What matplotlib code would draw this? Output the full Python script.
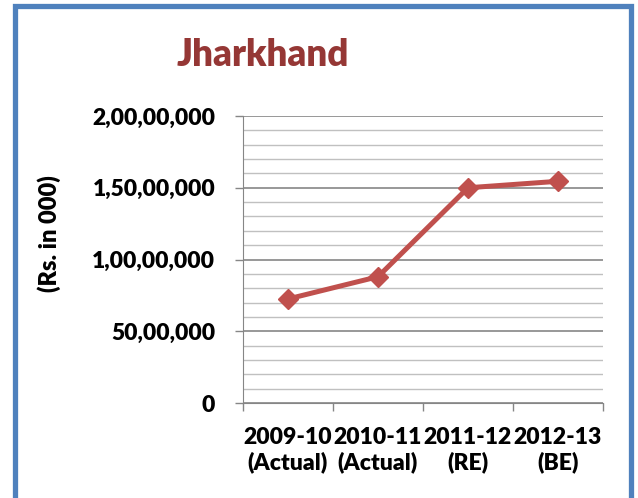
import matplotlib
matplotlib.use("Agg")
import matplotlib.pyplot as plt
from matplotlib.ticker import MultipleLocator, FuncFormatter
from matplotlib.patches import Rectangle

categories = ["2009-10\n(Actual)", "2010-11\n(Actual)", "2011-12\n(RE)", "2012-13\n(BE)"]
values = [7250000, 8800000, 15000000, 15450000]
title = "Jharkhand"
ylabel = "(Rs. in 000)"

plt.rcParams['font.family'] = ['Lato', 'DejaVu Sans']
W = 'heavy'

fig = plt.figure(figsize=(6.38, 4.98), dpi=100)
fig.patches.append(Rectangle((14.5/638, -0.1), 616.5/638, 1.1 - 6/498, transform=fig.transFigure,
                             fill=False, edgecolor='#4F81BD', linewidth=3.8))
ax = fig.add_axes([243/638, 1-403/498, 360/638, 287/498])

x = list(range(len(categories)))
ax.plot(x, values, color='#C0504D', linewidth=3.6, marker='D', markersize=10,
        markeredgecolor='#C0504D', markerfacecolor='#C0504D', zorder=5)

ax.set_xlim(-0.5, len(categories) - 0.5)
ax.set_ylim(0, 20000000)
ax.yaxis.set_major_locator(MultipleLocator(5000000))
ax.yaxis.set_minor_locator(MultipleLocator(1000000))

def indian(v, pos):
    v = int(round(v))
    if v == 0:
        return "0"
    s = str(v)
    last3 = s[-3:]
    rest = s[:-3]
    parts = []
    while len(rest) > 2:
        parts.insert(0, rest[-2:])
        rest = rest[:-2]
    if rest:
        parts.insert(0, rest)
    return ",".join(parts + [last3])

ax.yaxis.set_major_formatter(FuncFormatter(indian))
ax.grid(which='major', axis='y', color='#868686', linewidth=1.2)
ax.grid(which='minor', axis='y', color='#C0C0C0', linewidth=1.0)
ax.set_axisbelow(True)

ax.set_xticks([i - 0.5 for i in range(len(categories) + 1)])
ax.set_xticklabels([])
ax.set_xticks(x, minor=True)
ax.set_xticklabels(categories, minor=True, fontsize=16.5, fontweight=W)
ax.tick_params(axis='x', which='major', length=6, color='#868686', width=1)
ax.tick_params(axis='x', which='minor', length=0, pad=17)
ax.tick_params(axis='y', which='major', length=6, color='#868686', width=1,
               labelsize=16.5, pad=14)
ax.tick_params(axis='y', which='minor', length=0)
for lab in ax.get_yticklabels():
    lab.set_fontweight(W)

for s in ['top', 'right']:
    ax.spines[s].set_visible(False)
ax.spines['left'].set_color('#868686')
ax.spines['bottom'].set_color('#868686')

fig.text(263/638, 1-55/498, title, ha='center', va='center', fontsize=26.5,
         fontweight=W, color='#953735')
fig.text(49/638, 1-234/498, ylabel, ha='center', va='center', rotation=90,
         fontsize=17, fontweight=W)

fig.savefig("out.png", dpi=100)
